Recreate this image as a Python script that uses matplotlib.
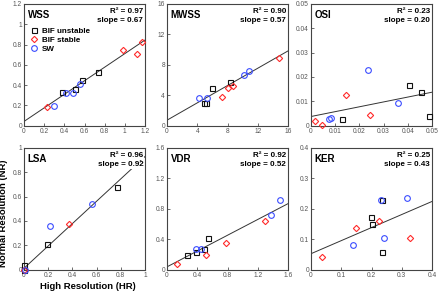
import matplotlib
matplotlib.use("Agg")
import matplotlib.pyplot as plt
import numpy as np
from matplotlib.ticker import FuncFormatter

plt.rcParams["font.family"] = ["Liberation Sans", "DejaVu Sans"]

# (HR values, NR values) per group
WSS_UNSTABLE = ([0.38, 0.51, 0.58, 0.73], [0.335, 0.365, 0.45, 0.53])
WSS_STABLE = ([0.23, 0.98, 1.12, 1.175], [0.18, 0.745, 0.705, 0.825])
WSS_SW = ([0.30, 0.415, 0.49, 0.56], [0.195, 0.325, 0.325, 0.41])

MWSS_UNSTABLE = ([4.9, 5.2, 6.0, 8.35], [2.9, 2.9, 5.0, 5.7])
MWSS_STABLE = ([7.25, 8.0, 8.7, 14.8], [3.8, 4.9, 5.25, 8.85])
MWSS_SW = ([4.2, 5.3, 10.2, 10.9], [3.65, 3.6, 6.6, 7.2])

OSI_UNSTABLE = ([0.013, 0.0405, 0.0455, 0.0488], [0.0025, 0.0167, 0.0138, 0.004])
OSI_STABLE = ([0.0017, 0.0047, 0.0146, 0.0245], [0.002, 0.0003, 0.0127, 0.0044])
OSI_SW = ([0.0076, 0.0082, 0.0234, 0.0358], [0.0027, 0.0031, 0.0228, 0.0093])

LSA_UNSTABLE = ([0.0, 0.0, 0.19, 0.77], [0.0, 0.041, 0.213, 0.68])
LSA_STABLE = ([0.0, 0.375], [0.0, 0.372])
LSA_SW = ([0.01, 0.217, 0.56], [0.0, 0.358, 0.535])

VDR_UNSTABLE = ([0.26, 0.38, 0.49, 0.54], [0.195, 0.23, 0.272, 0.415])
VDR_STABLE = ([0.135, 0.52, 0.78, 1.3], [0.075, 0.186, 0.354, 0.633])
VDR_SW = ([0.38, 0.445, 1.37, 1.49], [0.272, 0.265, 0.715, 0.915])

KER_UNSTABLE = ([0.197, 0.203, 0.234, 0.234], [0.173, 0.150, 0.228, 0.058])
KER_STABLE = ([0.037, 0.15, 0.226, 0.327], [0.042, 0.137, 0.16, 0.105])
KER_SW = ([0.14, 0.233, 0.242, 0.318], [0.082, 0.23, 0.104, 0.235])

NAMES = ["WSS", "MWSS", "OSI", "LSA", "VDR", "KER"]
R2 = [0.97, 0.90, 0.23, 0.96, 0.92, 0.25]
SLOPES = [0.67, 0.57, 0.20, 0.92, 0.52, 0.43]
INTERCEPTS = [0.04, 0.70, 0.0037, 0.01, 0.035, 0.052]
TICKS = [
    [0, 0.2, 0.4, 0.6, 0.8, 1, 1.2],
    [0, 4, 8, 12, 16],
    [0, 0.01, 0.02, 0.03, 0.04, 0.05],
    [0, 0.2, 0.4, 0.6, 0.8, 1],
    [0, 0.4, 0.8, 1.2, 1.6],
    [0, 0.1, 0.2, 0.3, 0.4],
]
GROUPS = [
    (WSS_UNSTABLE, WSS_STABLE, WSS_SW),
    (MWSS_UNSTABLE, MWSS_STABLE, MWSS_SW),
    (OSI_UNSTABLE, OSI_STABLE, OSI_SW),
    (LSA_UNSTABLE, LSA_STABLE, LSA_SW),
    (VDR_UNSTABLE, VDR_STABLE, VDR_SW),
    (KER_UNSTABLE, KER_STABLE, KER_SW),
]
LABELS = ["BIF unstable", "BIF stable", "SW"]
STYLES = [("s", "#111111", 3.6), ("D", "#ff2a2a", 3.2), ("o", "#3a4cff", 4.1)]

fig = plt.figure(figsize=(4.4, 2.92), dpi=100)
W, H = 440.0, 292.0
lefts = [24, 167, 311]
tops = [4, 148]
aw, ah = 121, 121.5

fmt = FuncFormatter(lambda v, p: "%g" % v)

for i, name in enumerate(NAMES):
    r, c = divmod(i, 3)
    ax = fig.add_axes([lefts[c] / W, 1 - (tops[r] + ah) / H, aw / W, ah / H])
    lim = TICKS[i][-1]
    ax.set_xlim(0, lim)
    ax.set_ylim(0, lim)
    ax.set_xticks(TICKS[i])
    ax.set_yticks(TICKS[i])
    ax.xaxis.set_major_formatter(fmt)
    ax.yaxis.set_major_formatter(fmt)
    ax.tick_params(direction="in", length=2, width=0.6, color="#555555",
                   labelsize=4.8, labelcolor="#555555", pad=1.5)
    for sp in ax.spines.values():
        sp.set_color("#444444")
        sp.set_linewidth(0.8)

    xs = np.array([0, lim])
    ax.plot(xs, INTERCEPTS[i] + SLOPES[i] * xs, color="#333333", lw=0.7, zorder=1)

    for (hr, nr), lab, (m, col, ms) in zip(GROUPS[i], LABELS, STYLES):
        ax.plot(hr, nr, ls="none", marker=m, ms=ms, mfc="none", mec=col,
                mew=0.8, label=lab, zorder=3, clip_on=False)

    ax.text(0.03, 0.91, name, transform=ax.transAxes, fontsize=7.0,
            fontweight="bold", va="center", ha="left")
    ax.text(0.985, 0.935, "R\u00b2 = %.2f" % R2[i], transform=ax.transAxes,
            fontsize=5.8, fontweight="bold", va="center", ha="right",
            bbox=dict(fc="white", ec="none", pad=0.5), zorder=4)
    ax.text(0.985, 0.862, "slope = %.2f" % SLOPES[i], transform=ax.transAxes,
            fontsize=5.8, fontweight="bold", va="center", ha="right",
            bbox=dict(fc="white", ec="none", pad=0.5), zorder=4)

    if i == 0:
        ax.legend(loc="upper left", bbox_to_anchor=(0.05, 0.81), frameon=False,
                  handlelength=1.0, handletextpad=0.45,
                  labelspacing=0.2, borderpad=0, borderaxespad=0,
                  prop={"weight": "bold", "size": 5.8})
    if i == 3:
        ax.set_xlabel("High Resolution (HR)", fontsize=6.8, fontweight="bold")
        ax.set_ylabel("Normal Resolution (NR)", fontsize=6.8, fontweight="bold")
        ax.xaxis.set_label_coords(0.53, -0.105)
        ax.yaxis.set_label_coords(-0.135, 0.46)

fig.savefig("out.png", dpi=100)
